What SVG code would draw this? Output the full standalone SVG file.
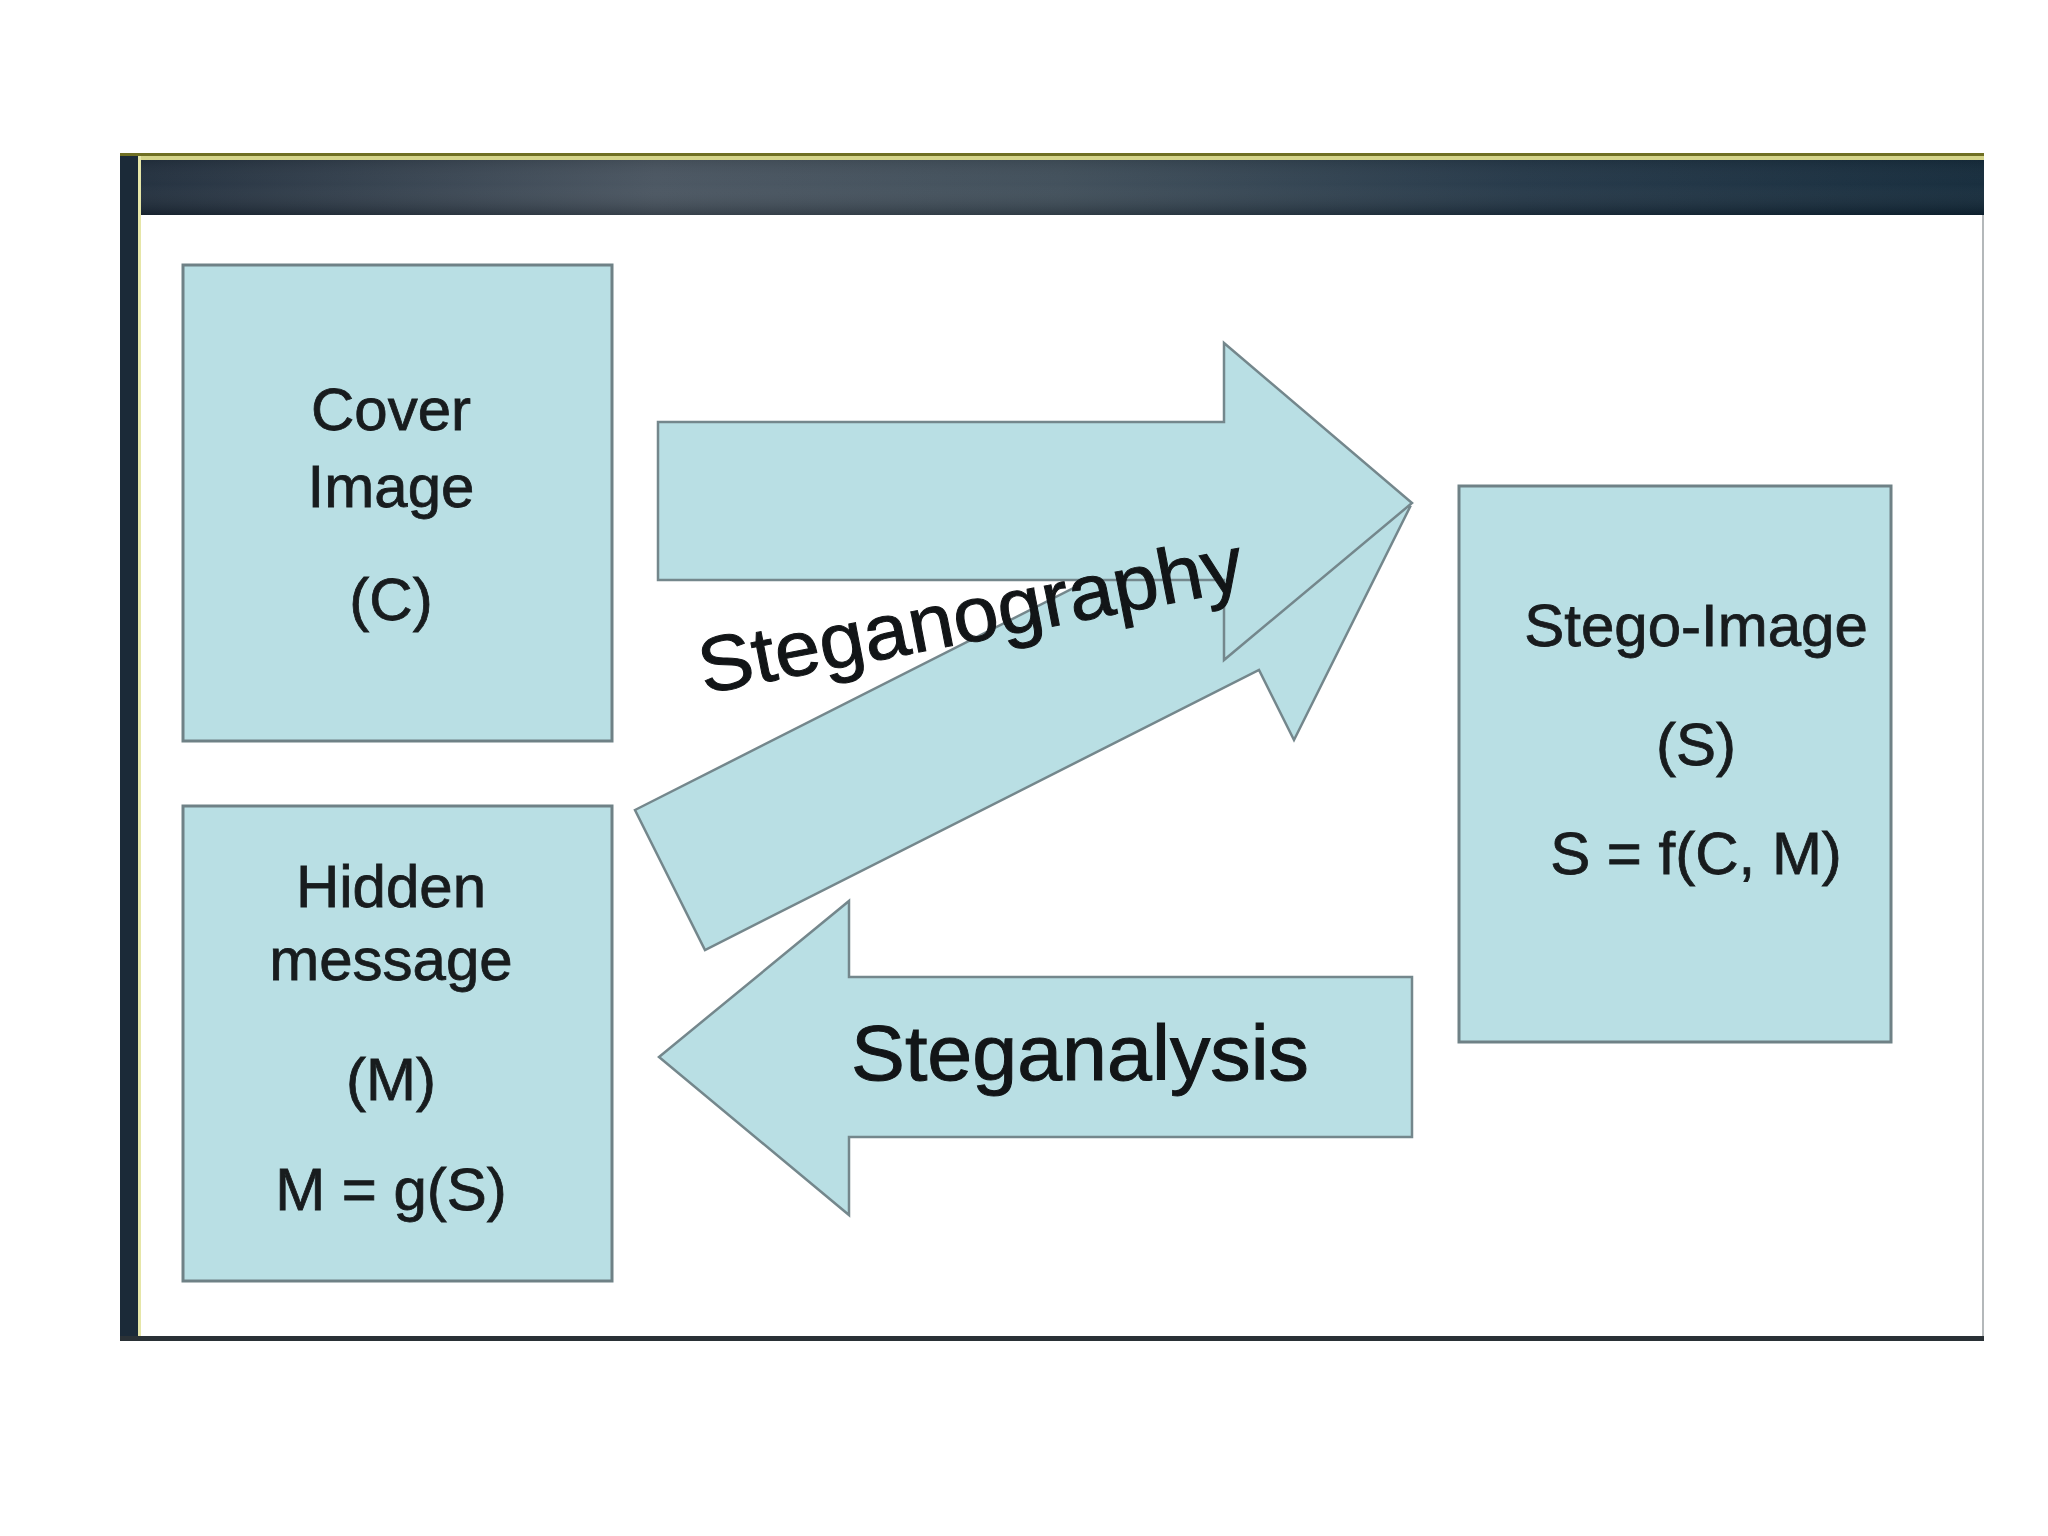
<svg xmlns="http://www.w3.org/2000/svg" width="2048" height="1536" viewBox="0 0 2048 1536">
  <defs>
    <linearGradient id="barGrad" x1="0" y1="0" x2="1" y2="0">
      <stop offset="0" stop-color="#1c2a39"/>
      <stop offset="0.28" stop-color="#45515d"/>
      <stop offset="0.5" stop-color="#3b4a56"/>
      <stop offset="0.75" stop-color="#1f3344"/>
      <stop offset="1" stop-color="#0f2637"/>
    </linearGradient>
    <linearGradient id="barShade" x1="0" y1="0" x2="0" y2="1">
      <stop offset="0" stop-color="#000" stop-opacity="0.15"/>
      <stop offset="0.5" stop-color="#fff" stop-opacity="0.04"/>
      <stop offset="1" stop-color="#000" stop-opacity="0.2"/>
    </linearGradient>
  </defs>
  <style>
    .box { fill: #b9dfe4; stroke: #6f8186; stroke-width: 3; }
    .arrow { fill: #b9dfe4; stroke: #74878c; stroke-width: 2.5; stroke-linejoin: miter; }
    .lbl { font-family: "Liberation Sans", Arial, sans-serif; font-size: 60px; fill: #181c1e; stroke: #181c1e; stroke-width: 0.8; text-anchor: middle; }
    .big { font-family: "Liberation Sans", Arial, sans-serif; font-size: 78px; fill: #121517; stroke: #121517; stroke-width: 1; }
  </style>

  <rect x="0" y="0" width="2048" height="1536" fill="#ffffff"/>

  <!-- slide frame -->
  <g id="frame">
    <rect x="138" y="215" width="1846" height="1124" fill="#ffffff"/>
    <rect x="120" y="153" width="18" height="1187" fill="#1b2a38"/>
    <rect x="138" y="153" width="1846" height="62" fill="url(#barGrad)"/>
    <rect x="138" y="153" width="1846" height="62" fill="url(#barShade)"/>
    <rect x="120" y="153" width="1864" height="3" fill="#6f6f24"/>
    <rect x="138" y="156" width="1846" height="4" fill="#d4d48a"/>
    <rect x="138" y="156" width="3" height="1183" fill="#e6e6a8"/>
    <line x1="1983" y1="215" x2="1983" y2="1339" stroke="#b4b8ba" stroke-width="2"/>
    <rect x="120" y="1336" width="1864" height="5" fill="#2a3136"/>
  </g>

  <!-- connectors (block arrows) -->
  <g id="connectors">
    <polygon id="arrow-steganography-diag" class="arrow" points="635,810 1188,530 1152,460 1410,507 1294,740 1259,670 705,950"/>
    <polygon id="arrow-steganography" class="arrow" points="658,422 1224,422 1224,343 1412,503 1224,660 1224,580 658,580"/>
    <polygon id="arrow-steganalysis" class="arrow" points="1412,977 849,977 849,901 659,1057 849,1215 849,1137 1412,1137"/>
    <text class="big" x="704" y="694" transform="rotate(-11 704 694)" textLength="553" lengthAdjust="spacingAndGlyphs">Steganography</text>
    <text class="big" x="851" y="1080" textLength="458" lengthAdjust="spacingAndGlyphs">Steganalysis</text>
  </g>

  <!-- nodes -->
  <g id="cover-image">
    <rect class="box" x="183" y="265" width="429" height="476"/>
    <text class="lbl" x="391" y="430">Cover</text>
    <text class="lbl" x="391" y="507">Image</text>
    <text class="lbl" x="391" y="620">(C)</text>
  </g>

  <g id="hidden-message">
    <rect class="box" x="183" y="806" width="429" height="475"/>
    <text class="lbl" x="391" y="907">Hidden</text>
    <text class="lbl" x="391" y="980">message</text>
    <text class="lbl" x="391" y="1100">(M)</text>
    <text class="lbl" x="391" y="1210">M = g(S)</text>
  </g>

  <g id="stego-image">
    <rect class="box" x="1459" y="486" width="432" height="556"/>
    <text class="lbl" x="1696" y="646">Stego-Image</text>
    <text class="lbl" x="1696" y="765">(S)</text>
    <text class="lbl" x="1696" y="874">S = f(C, M)</text>
  </g>
</svg>
